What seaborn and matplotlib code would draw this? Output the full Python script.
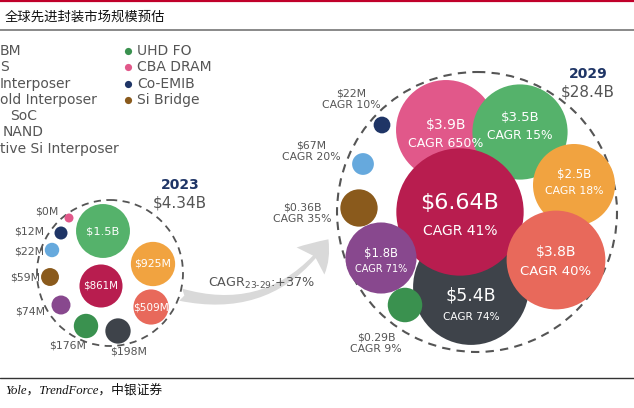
import numpy as np
import pandas as pd
import matplotlib
matplotlib.use("Agg")
import matplotlib.pyplot as plt
from matplotlib.patches import Circle, FancyArrowPatch
import seaborn as sns

# ---- data ($M) ----
segments = ["HBM", "3DS", "Si Interposer", "Mold Interposer", "3D SoC", "3D NAND",
            "Active Si Interposer", "UHD FO", "CBA DRAM", "Co-EMIB", "Si Bridge"]
value_2023 = [861, 198, 925, 509, 74, 1500, 22, 176, 0, 12, 59]
value_2029 = [6640, 5400, 2500, 3800, 1800, 3500, 67, 290, 3900, 22, 360]
cagr = [41, 74, 18, 40, 71, 15, 20, 9, 650, 10, 35]
label_2023 = ["$861M", "$198M", "$925M", "$509M", "$74M", "$1.5B", "$22M", "$176M", "$0M", "$12M", "$59M"]
label_2029 = ["$6.64B", "$5.4B", "$2.5B", "$3.8B", "$1.8B", "$3.5B", "$67M", "$0.29B", "$3.9B", "$22M", "$0.36B"]
years = ["2023", "2029"]
totals = ["$4.34B", "$28.4B"]
cagr_total = 37
# the left legend column is cropped by the image edge in the source
legend_left_shown = ["BM", "S", "Interposer", "old Interposer", "SoC", "NAND", "tive Si Interposer"]

colors = {
    "HBM": "#b81d4f", "3DS": "#3e434a", "Si Interposer": "#f1a340",
    "Mold Interposer": "#e8695b", "3D SoC": "#88488e", "3D NAND": "#55b26b",
    "Active Si Interposer": "#66a9dd", "UHD FO": "#3a914f", "CBA DRAM": "#e1588a",
    "Co-EMIB": "#1f3566", "Si Bridge": "#8a5a1c",
}

# ---- layout (pixels, y down) ----
DPI = 100
pos_2023 = {"HBM": (101, 286), "3DS": (118, 331), "Si Interposer": (153, 264),
            "Mold Interposer": (151, 307), "3D SoC": (61, 305), "3D NAND": (103, 231),
            "Active Si Interposer": (52, 250), "UHD FO": (86, 326), "CBA DRAM": (69, 218),
            "Co-EMIB": (61, 233), "Si Bridge": (50, 277)}
pos_2029 = {"HBM": (460, 212), "3DS": (471, 287), "Si Interposer": (574, 185),
            "Mold Interposer": (556, 260), "3D SoC": (381, 258), "3D NAND": (520, 132),
            "Active Si Interposer": (363, 164), "UHD FO": (405, 305), "CBA DRAM": (446, 130),
            "Co-EMIB": (382, 125), "Si Bridge": (359, 208)}
order_2029 = ["CBA DRAM", "3D NAND", "3DS", "HBM", "Si Interposer", "Mold Interposer",
              "3D SoC", "UHD FO", "Si Bridge", "Active Si Interposer", "Co-EMIB"]

# outside labels: segment -> (x, y, ha)
out_2023 = {"CBA DRAM": (58, 212, "right"), "Co-EMIB": (44, 231, "right"),
            "Active Si Interposer": (44, 251, "right"), "Si Bridge": (40, 278, "right"),
            "3D SoC": (45, 312, "right"), "UHD FO": (68, 345, "center"), "3DS": (129, 352, "center")}
out_2029 = {"Co-EMIB": (351, 99), "Active Si Interposer": (311, 151),
            "Si Bridge": (302, 213), "UHD FO": (376, 343)}
# inner label font sizes (value, cagr) and vertical nudge
fs_2023 = {"3D NAND": 8.2, "Si Interposer": 7.8, "HBM": 7.4, "Mold Interposer": 7.6}
fs_2029 = {"HBM": (16, 10), "CBA DRAM": (10, 9), "3D NAND": (9.5, 8.8),
           "Si Interposer": (8.5, 7.8), "Mold Interposer": (10, 9.5), "3DS": (12.5, 7.6),
           "3D SoC": (8.4, 7)}
dy_2029 = {"3D NAND": -10, "Si Interposer": -6, "Mold Interposer": -3, "3DS": 15}
legend_left_x = [0, 0, 0, 0, 10, 3, 0]


def radius_2023(v):
    return 4.5 + 0.58 * np.sqrt(v)


def radius_2029(v):
    return 5.0 + 0.72 * np.sqrt(v)


def area(r):
    # marker area in pt^2 for a radius in pixels
    return (2 * r * 72 / DPI) ** 2


df = pd.DataFrame({"segment": segments, "v2023": value_2023, "v2029": value_2029,
                   "cagr": cagr, "lab23": label_2023, "lab29": label_2029})
df["x23"] = [pos_2023[s][0] for s in segments]
df["y23"] = [pos_2023[s][1] for s in segments]
df["x29"] = [pos_2029[s][0] for s in segments]
df["y29"] = [pos_2029[s][1] for s in segments]
df["r23"] = radius_2023(df["v2023"])
df["r29"] = radius_2029(df["v2029"])

sns.set_style("white")
plt.rcParams["font.family"] = ["DejaVu Sans", "Noto Sans CJK SC"]
plt.rcParams["mathtext.fontset"] = "dejavusans"

GRAY = "#555555"
fig = plt.figure(figsize=(6.34, 4.08), dpi=DPI)
ax = fig.add_axes([0, 0, 1, 1])

# enclosing dashed circles
ax.add_patch(Circle((110, 273), 73, fill=False, ls=(0, (4, 3)), lw=1.3, ec="#555555", zorder=1))
ax.add_patch(Circle((477, 212), 140, fill=False, ls=(0, (4, 3)), lw=1.5, ec="#555555", zorder=1))

# growth arrow
arrow = FancyArrowPatch((178, 294), (330, 237), connectionstyle="arc3,rad=0.35",
                        arrowstyle="fancy,head_length=0.45,head_width=0.62,tail_width=0.2",
                        mutation_scale=45, color="#d9d9d9", lw=0, zorder=0)
ax.add_patch(arrow)
ax.text(262, 283, "CAGR$_{23\u201029}$:+%d%%" % cagr_total, ha="center", va="center",
        fontsize=9.2, color=GRAY, zorder=5)

# bubbles
sns.scatterplot(data=df, x="x23", y="y23", hue="segment", palette=colors,
                s=area(df["r23"]), linewidth=0, legend=False, ax=ax, zorder=3)
d29 = df.set_index("segment").loc[order_2029].reset_index()
sns.scatterplot(data=d29, x="x29", y="y29", hue="segment", palette=colors,
                s=area(d29["r29"]), linewidth=0, legend=False, ax=ax, zorder=3)

# 2023 labels
for _, row in df.iterrows():
    seg = row["segment"]
    if seg in fs_2023:
        ax.text(row["x23"], row["y23"], row["lab23"], ha="center", va="center",
                fontsize=fs_2023[seg], color="white", zorder=5)
    else:
        x, y, ha = out_2023[seg]
        ax.text(x, y, row["lab23"], ha=ha, va="center", fontsize=7.8, color=GRAY, zorder=5)

# 2029 labels
for _, row in df.iterrows():
    seg = row["segment"]
    cg = "CAGR %d%%" % row["cagr"]
    if seg in fs_2029:
        fv, fc = fs_2029[seg]
        hv, hc = fv * DPI / 72, fc * DPI / 72
        cx, cy = row["x29"], row["y29"] + dy_2029.get(seg, 0)
        ax.text(cx, cy - 0.45 * hv + 1, row["lab29"], ha="center", va="center",
                fontsize=fv, color="white", zorder=5)
        ax.text(cx, cy + 0.55 * hv + 0.5 * hc, cg, ha="center", va="center",
                fontsize=fc, color="white", zorder=5)
    else:
        x, y = out_2029[seg]
        ax.text(x, y, row["lab29"] + "\n" + cg, ha="center", va="center", fontsize=7.8,
                color=GRAY, linespacing=1.15, zorder=5)

# year totals
for (x, y), yr, tot in zip([(180, 185), (588, 74)], years, totals):
    ax.text(x, y, yr, ha="center", va="center", fontsize=10, fontweight="bold", color="#1f3566")
    ax.text(x, y + 18, tot, ha="center", va="center", fontsize=11, color=GRAY)

# legend
for i, txt in enumerate(legend_left_shown):
    ax.text(legend_left_x[i], 51 + i * 16.3, txt, ha="left", va="center", fontsize=10, color=GRAY)
for j, seg in enumerate(segments[7:]):
    ly = 51 + j * 16.3
    ax.scatter(128, ly, s=area(3.6), color=colors[seg], linewidth=0)
    ax.text(137, ly, seg, ha="left", va="center", fontsize=10, color=GRAY)

# header / footer rules
ax.axhline(0.8, color="#c0002a", lw=1.6)
ax.axhline(30, color="#808080", lw=1.3)
ax.axhline(378, color="#333333", lw=1.0)
ax.text(5, 17, "全球先进封装市场规模预估", ha="left", va="center", fontsize=9.6,
        family=["Noto Sans CJK SC"], color="#111111")
ax.text(5, 390, "Yole，TrendForce，中银证券", ha="left", va="center", fontsize=9.2,
        family=["Liberation Serif", "Noto Sans CJK SC"], style="italic", color="#111111")

ax.set_xlim(0, 634)
ax.set_ylim(408, 0)
ax.axis("off")
fig.savefig("out.png", dpi=DPI)
